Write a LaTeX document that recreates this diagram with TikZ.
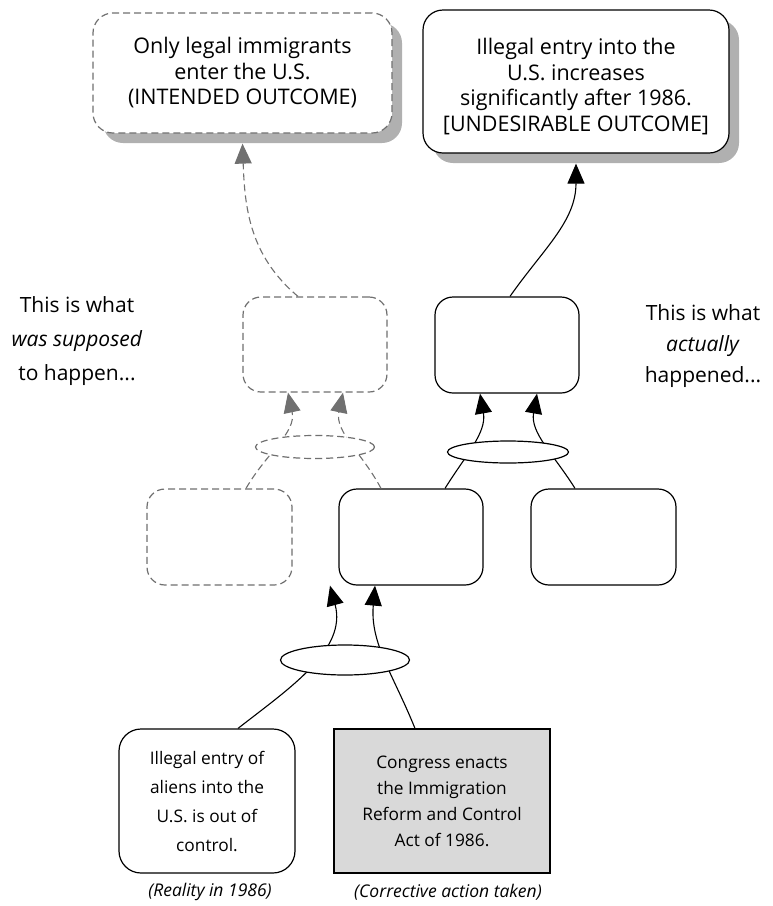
\documentclass[tikz,border=0pt]{standalone}
\usepackage{fontspec}
\setmainfont{Open Sans}
\usetikzlibrary{arrows.meta,shapes.geometric,shadows}
\definecolor{dashgray}{HTML}{707070}
\definecolor{shadowgray}{HTML}{B0B0B0}
\definecolor{actfill}{HTML}{D9D9D9}
\begin{document}
\begin{tikzpicture}[x=1pt,y=1pt,
  every node/.style={align=center, inner sep=0pt},
  bigtext/.style={font=\fontsize{21.5}{25.5}\selectfont},
  smalltext/.style={font=\fontsize{17.3}{26}\selectfont},
  solidbox/.style={draw=black, line width=1.2pt, fill=white, rounded corners=20pt},
  ghostbox/.style={draw=dashgray, line width=1.2pt, dash pattern=on 7pt off 4pt, fill=white, rounded corners=20pt},
  boxshadow/.style={drop shadow={shadow xshift=10pt, shadow yshift=-10pt, fill=shadowgray, opacity=1}},
  junction/.style={ellipse, draw=black, line width=1.2pt, fill=white},
  ghostjunction/.style={ellipse, draw=dashgray, line width=1.2pt, dash pattern=on 7pt off 4pt, fill=white},
  link/.style={draw=black, line width=1.1pt, -{Triangle[length=20pt,width=17pt]}},
  ghostlink/.style={draw=dashgray, line width=1.1pt, dash pattern=on 7pt off 4pt, -{Triangle[length=20pt,width=17pt,fill=dashgray]}}
]
\useasboundingbox (0,0) rectangle (772,-906);

% outcome boxes at the top
\node[ghostbox, boxshadow, bigtext, minimum width=299pt, minimum height=120pt] (intended) at (242.5,-73)
  {Only legal immigrants\\enter the U.S.\\(INTENDED OUTCOME)};
\node[solidbox, boxshadow, minimum width=306pt, minimum height=143pt] (undes) at (576,-81.5) {};
\node[bigtext] (undesText) at ([yshift=-5pt]undes.center)
  {Illegal entry into the\\U.S. increases\\significantly after 1986.\\{[}UNDESIRABLE OUTCOME{]}};

% intermediate boxes
\node[ghostbox, rounded corners=18pt, minimum width=144pt, minimum height=95pt] (midL) at (315,-344.5) {};
\node[solidbox, rounded corners=18pt, minimum width=144pt, minimum height=96pt] (upR) at (507,-345) {};
\node[ghostbox, rounded corners=18pt, minimum width=145pt, minimum height=96pt] (leftL) at (219.5,-537) {};
\node[solidbox, rounded corners=18pt, minimum width=144pt, minimum height=96pt] (midbox) at (411,-537) {};
\node[solidbox, rounded corners=18pt, minimum width=145pt, minimum height=96pt] (rightbox) at (603.5,-537) {};

% root causes
\node[solidbox, rounded corners=22pt, minimum width=176pt, minimum height=144pt, font=\fontsize{17.3}{29}\selectfont] (reality) at (207,-801)
  {Illegal entry of\\aliens into the\\U.S. is out of\\control.};
\node[draw=black, line width=1.2pt, fill=actfill, smalltext, minimum width=216pt, minimum height=144pt] (congress) at (442,-801)
  {Congress enacts\\the Immigration\\Reform and Control\\Act of 1986.};

% connectors
\draw[link] ([xshift=3pt]upR.north) to[out=55,in=-90] ([yshift=-10pt]undes.south);
\draw[ghostlink] ([xshift=-17pt]midL.north) to[out=140,in=-88] ([yshift=-10pt]intended.south);

\draw[ghostlink] ([xshift=26.5pt]leftL.north) to[out=60,in=-78] ([xshift=-27pt]midL.south);
\draw[ghostlink] ([xshift=-30pt]midbox.north) to[out=118,in=-102] ([xshift=28pt]midL.south);

\draw[link] ([xshift=34pt]midbox.north) to[out=58,in=-80] ([xshift=-27pt]upR.south);
\draw[link] ([xshift=-28.5pt]rightbox.north) to[out=122,in=-100] ([xshift=30pt]upR.south);

\draw[link] ([xshift=31pt]reality.north) to[out=38,in=-75] ([xshift=-81pt]midbox.south);
\draw[link] ([xshift=-27pt]congress.north) to[out=112,in=-95] ([xshift=-36pt]midbox.south);

% junctions
\node[ghostjunction, minimum width=119pt, minimum height=23pt] (ellL) at (315,-447) {};
\node[junction, minimum width=121pt, minimum height=22pt] (ellR) at (508,-452) {};
\node[junction, minimum width=129pt, minimum height=30pt] (ellB) at (345,-660) {};

% side notes and captions
\node[font=\fontsize{21}{34}\selectfont] (supposed) at (77,-341) {This is what\\\textit{was supposed}\\to happen...};
\node[font=\fontsize{21}{31}\selectfont] (actually) at (703,-346) {This is what\\\textit{actually}\\happened...};
\node[font=\fontsize{17.5}{22}\selectfont] (capL) at (210,-892) {\textit{(Reality in 1986)}};
\node[font=\fontsize{17.5}{22}\selectfont] (capR) at (448,-892) {\textit{(Corrective action taken)}};
\end{tikzpicture}
\end{document}
